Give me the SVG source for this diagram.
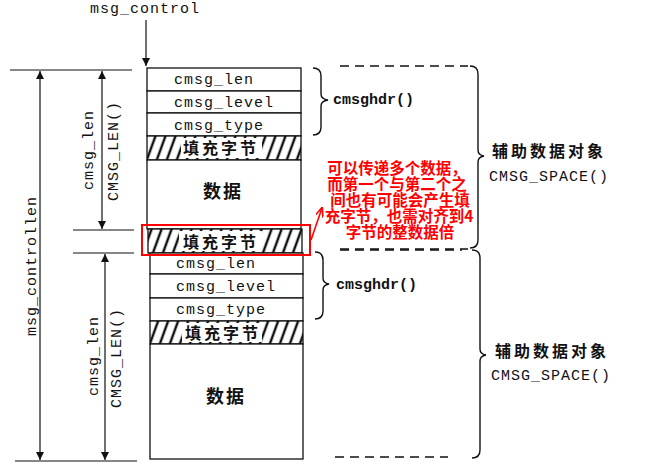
<svg xmlns="http://www.w3.org/2000/svg" width="650" height="471" viewBox="0 0 650 471">
<style>
.mono{font-family:"Liberation Mono","DejaVu Sans Mono",monospace;font-size:15px;letter-spacing:1px;fill:#111}
.monob{font-family:"Liberation Mono","DejaVu Sans Mono",monospace;font-size:15px;font-weight:bold;fill:#111}
.cjk{font-family:"Noto Sans CJK SC","Noto Sans",sans-serif;font-weight:bold;fill:#111}
.red{font-family:"Noto Sans CJK SC","Noto Sans",sans-serif;font-weight:bold;font-size:15.5px;fill:#f00;text-anchor:middle}
.box{fill:#fff;stroke:#111;stroke-width:1.3}
.ln{stroke:#111;stroke-width:1.2;fill:none}
.dash{stroke:#111;stroke-width:1.4;fill:none;stroke-dasharray:9 6}
.brace{stroke:#111;stroke-width:1.4;fill:none}
</style>
<defs>
<pattern id="hatch" patternUnits="userSpaceOnUse" width="10" height="10" patternTransform="skewX(-20)">
<rect width="10" height="10" fill="#fff"/>
<line x1="5" y1="-1" x2="5" y2="11" stroke="#111" stroke-width="2.6"/>
</pattern>
<marker id="ah" viewBox="0 0 8 10" refX="8" refY="5" markerWidth="8" markerHeight="10" markerUnits="userSpaceOnUse" orient="auto">
<path d="M0,1 L8,5 L0,9 Z" fill="#111"/>
</marker>
<marker id="rah" viewBox="0 0 10 8" refX="9" refY="4" markerWidth="10" markerHeight="8" markerUnits="userSpaceOnUse" orient="auto">
<path d="M0,0 L10,4 L0,8" fill="none" stroke="#f00" stroke-width="1.6"/>
</marker>
</defs>
<rect width="650" height="471" fill="#fff"/>

<g id="connectors">
<text class="mono" x="90" y="13">msg_control</text>
<line class="ln" x1="146" y1="20" x2="146" y2="66" marker-end="url(#ah)"/>
<line class="ln" x1="10" y1="70" x2="132" y2="70"/>
<line class="ln" x1="73" y1="230" x2="134" y2="230"/>
<line class="ln" x1="73" y1="253" x2="134" y2="253"/>
<line class="ln" x1="15" y1="461" x2="137" y2="461"/>
<line class="ln" x1="40" y1="265" x2="40" y2="71" marker-end="url(#ah)"/>
<line class="ln" x1="40" y1="265" x2="40" y2="460" marker-end="url(#ah)"/>
<line class="ln" x1="102" y1="150" x2="102" y2="71" marker-end="url(#ah)"/>
<line class="ln" x1="102" y1="150" x2="102" y2="229" marker-end="url(#ah)"/>
<line class="ln" x1="105" y1="355" x2="105" y2="254" marker-end="url(#ah)"/>
<line class="ln" x1="105" y1="355" x2="105" y2="460" marker-end="url(#ah)"/>
<text class="mono" transform="translate(36,266) rotate(-90)" text-anchor="middle">msg_controllen</text>
<text class="mono" transform="translate(93,150) rotate(-90)" text-anchor="middle">cmsg_len</text>
<text class="mono" transform="translate(118,151) rotate(-90)" text-anchor="middle">CMSG_LEN()</text>
<text class="mono" transform="translate(98,356) rotate(-90)" text-anchor="middle">cmsg_len</text>
<text class="mono" transform="translate(121,358) rotate(-90)" text-anchor="middle">CMSG_LEN()</text>
<line x1="311" y1="240" x2="322" y2="208" stroke="#f00" stroke-width="1.6" marker-end="url(#rah)"/>
</g>

<g id="hdr1-len"><rect class="box" x="147" y="68" width="154" height="23"/><text class="mono" x="174" y="84">cmsg_len</text></g>
<g id="hdr1-level"><rect class="box" x="147" y="91" width="154" height="22"/><text class="mono" x="174" y="107">cmsg_level</text></g>
<g id="hdr1-type"><rect class="box" x="147" y="113" width="154" height="23"/><text class="mono" x="174" y="130">cmsg_type</text></g>
<g id="pad1"><rect class="box" x="147" y="136" width="154" height="24" style="fill:url(#hatch)"/><rect x="181" y="138" width="81" height="20" fill="#fff"/><text class="cjk" x="221" y="154" font-size="16" letter-spacing="3" text-anchor="middle">填充字节</text></g>
<g id="data1"><rect class="box" x="147" y="160" width="154" height="69"/><text class="cjk" x="223" y="198" font-size="18" letter-spacing="2" text-anchor="middle">数据</text></g>
<g id="pad2"><rect class="box" x="148" y="229" width="154" height="24" style="fill:url(#hatch)"/><rect x="179" y="231" width="83" height="20" fill="#fff"/><text class="cjk" x="221" y="248" font-size="16" letter-spacing="3" text-anchor="middle">填充字节</text></g>
<g id="hdr2-len"><rect class="box" x="150" y="253" width="153" height="21"/><text class="mono" x="176" y="268">cmsg_len</text></g>
<g id="hdr2-level"><rect class="box" x="150" y="274" width="153" height="24"/><text class="mono" x="176" y="291">cmsg_level</text></g>
<g id="hdr2-type"><rect class="box" x="150" y="298" width="153" height="23"/><text class="mono" x="176" y="314">cmsg_type</text></g>
<g id="pad3"><rect class="box" x="150" y="321" width="153" height="23" style="fill:url(#hatch)"/><rect x="182" y="323" width="80" height="19" fill="#fff"/><text class="cjk" x="223" y="339" font-size="16" letter-spacing="3" text-anchor="middle">填充字节</text></g>
<g id="data2"><rect class="box" x="150" y="344" width="153" height="115"/><text class="cjk" x="226" y="403" font-size="18" letter-spacing="2" text-anchor="middle">数据</text></g>

<g id="redbox"><rect x="142" y="225" width="168" height="30" fill="none" stroke="#f00" stroke-width="2"/></g>

<g id="cmsghdr1">
<path class="brace" d="M313 68 Q321 68 321 76 L321 94 Q321 99 328 100 Q321 101 321 106 L321 127 Q321 135 313 135"/>
<text class="monob" x="333" y="104">cmsghdr()</text>
</g>
<g id="cmsghdr2">
<path class="brace" d="M315 252 Q323 252 323 260 L323 278 Q323 283 329 284 Q323 285 323 290 L323 311 Q323 319 315 319"/>
<text class="monob" x="336" y="289">cmsghdr()</text>
</g>

<g id="object1">
<path class="dash" d="M340 66 L468 66"/>
<path class="dash" d="M340 249 L468 249"/>
<path class="brace" d="M470 66 Q478 66 478 74 L478 150 Q478 155 484 156 Q478 157 478 162 L478 240 Q478 248 470 248"/>
<text class="cjk" x="492" y="157" font-size="16" letter-spacing="3">辅助数据对象</text>
<text class="mono" x="489" y="181">CMSG_SPACE()</text>
</g>
<g id="object2">
<path class="dash" d="M340 250 L462 250"/>
<path class="dash" d="M335 457 L448 457"/>
<path class="brace" d="M472 250 Q480 250 480 258 L480 349 Q480 354 486 355 Q480 356 480 361 L480 450 Q480 458 472 458"/>
<text class="cjk" x="495" y="357" font-size="16" letter-spacing="3">辅助数据对象</text>
<text class="mono" x="491" y="380">CMSG_SPACE()</text>
</g>

<g id="note">
<text class="red" x="397" y="174">可以传递多个数据，</text>
<text class="red" x="397" y="190">而第一个与第二个之</text>
<text class="red" x="400" y="206">间也有可能会产生填</text>
<text class="red" x="399" y="222">充字节，也需对齐到4</text>
<text class="red" x="400" y="238">字节的整数据倍</text>
</g>
</svg>
